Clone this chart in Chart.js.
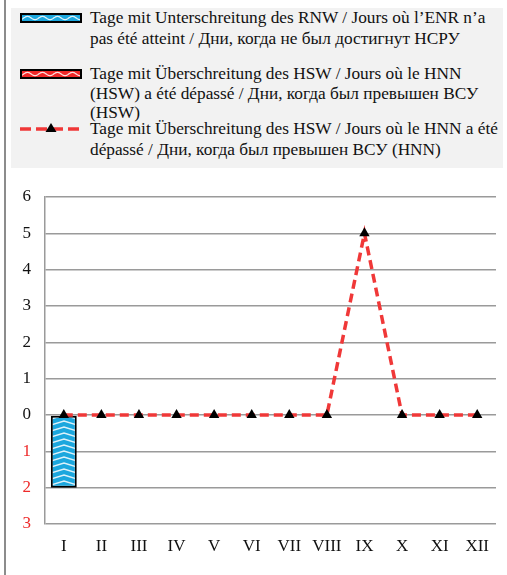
<!DOCTYPE html>
<html><head><meta charset="utf-8">
<script src="https://cdn.jsdelivr.net/npm/chart.js@4.4.1/dist/chart.umd.min.js"></script>
</head><body style="margin:0;padding:0;background:#fff;width:507px;height:575px;position:relative;overflow:hidden;font-family:'Liberation Serif',serif;">
<div style="position:absolute;left:4px;top:0;width:2px;height:575px;background:#8c8c8c;"></div>
<div style="position:absolute;left:11px;top:8px;width:492px;height:160px;background:#f2f2f2;">
  <canvas id="sw1" width="62" height="10" style="position:absolute;left:9px;top:5px"></canvas>
  <div id="t1" style="position:absolute;left:79px;top:0px;font-family:'Liberation Serif',serif;font-size:17.3px;line-height:20.5px;color:#111;white-space:nowrap;"></div>
  <canvas id="sw2" width="62" height="10" style="position:absolute;left:9px;top:61px"></canvas>
  <div id="t2" style="position:absolute;left:79px;top:56px;font-family:'Liberation Serif',serif;font-size:17.3px;line-height:19.5px;color:#111;white-space:nowrap;"></div>
  <canvas id="sw3" width="62" height="14" style="position:absolute;left:9px;top:113px"></canvas>
  <div id="t3" style="position:absolute;left:79px;top:110px;font-family:'Liberation Serif',serif;font-size:17.3px;line-height:21px;color:#111;white-space:nowrap;"></div>
</div>
<div style="position:absolute;left:10px;top:180px;width:497px;height:395px;"><canvas id="c" width="497" height="395" style="display:block"></canvas></div>
<script>
const months = ['I','II','III','IV','V','VI','VII','VIII','IX','X','XI','XII'];
const rnwDays = [2,0,0,0,0,0,0,0,0,0,0,0];   // days below RNW (drawn downward)
const hswDays = [0,0,0,0,0,0,0,0,0,0,0,0];   // days above HSW (bars)
const hnnDays = [0,0,0,0,0,0,0,0,5,0,0,0];   // days above HSW (HNN), line
const yTicks = [6,5,4,3,2,1,0,-1,-2,-3];
const legendTexts = [
  ['Tage mit Unterschreitung des RNW / Jours où l’ENR n’a','pas été atteint / Дни, когда не был достигнут НСРУ'],
  ['Tage mit Überschreitung des HSW / Jours où le HNN','(HSW) a été dépassé / Дни, когда был превышен ВСУ','(HSW)'],
  ['Tage mit Überschreitung des HSW / Jours où le HNN a été','dépassé / Дни, когда был превышен ВСУ (HNN)']
];
['t1','t2','t3'].forEach((id,i)=>{document.getElementById(id).innerHTML=legendTexts[i].join('<br>');});

// chevron fill used inside the bars
function makeBarPattern(bg){
  const t=document.createElement('canvas');t.width=26;t.height=6;
  const g=t.getContext('2d');
  g.fillStyle=bg;g.fillRect(0,0,26,6);
  g.strokeStyle='rgba(255,255,255,0.85)';g.lineWidth=1.4;
  g.beginPath();g.moveTo(-1,5.2);g.lineTo(13,1);g.lineTo(27,5.2);g.stroke();
  const p=g.createPattern(t,'repeat');
  p.setTransform(new DOMMatrix().translate(15,0));
  return p;
}
// wave fill used in the legend swatches
function makeWavePattern(bg){
  const t=document.createElement('canvas');t.width=15;t.height=10;
  const g=t.getContext('2d');
  g.fillStyle=bg;g.fillRect(0,0,15,10);
  g.strokeStyle='rgba(255,255,255,0.85)';g.lineWidth=1.3;
  g.beginPath();
  for(let x=0;x<=15;x+=0.5){const y=5+1.6*Math.cos(x/15*2*Math.PI);x===0?g.moveTo(x,y):g.lineTo(x,y);}
  g.stroke();
  return g.createPattern(t,'repeat');
}
const bluePat=makeBarPattern('#1ba7de');
const redPat=makeBarPattern('#f02828');
function swatch(id,bg){
  const c=document.getElementById(id),g=c.getContext('2d');
  g.fillStyle=makeWavePattern(bg);g.fillRect(0,0,62,10);
  g.strokeStyle='#000';g.lineWidth=2;g.strokeRect(1,1,60,8);
}
swatch('sw1','#1ba7de');swatch('sw2','#f02828');
(function(){
  const c=document.getElementById('sw3'),g=c.getContext('2d');
  g.strokeStyle='#f03838';g.lineWidth=3.5;g.setLineDash([11,5]);
  g.beginPath();g.moveTo(0,8);g.lineTo(62,8);g.stroke();
  g.fillStyle='#000';g.beginPath();g.moveTo(31,2);g.lineTo(36.5,11);g.lineTo(25.5,11);g.closePath();g.fill();
})();

Chart.defaults.font.family="'Liberation Serif', serif";
const font={family:"'Liberation Serif', serif",size:17};
new Chart(document.getElementById('c'),{
  data:{labels:months,datasets:[
    {type:'bar',label:'RNW',data:rnwDays.map(v=>-v),backgroundColor:bluePat,borderColor:'#000',borderWidth:2,borderSkipped:false,grouped:false,order:2,categoryPercentage:1,barPercentage:0.69},
    {type:'bar',label:'HSW',data:hswDays,backgroundColor:redPat,borderColor:'#000',borderWidth:0,grouped:false,order:1,categoryPercentage:1,barPercentage:0.69},
    {type:'line',label:'HNN',data:hnnDays,borderColor:'#f03838',borderWidth:3.5,borderDash:[9,5],tension:0,pointStyle:'triangle',pointRadius:6,pointBackgroundColor:'#000',pointBorderColor:'#000',pointBorderWidth:0,order:0}
  ]},
  options:{
    responsive:false,animation:false,devicePixelRatio:1,
    layout:{padding:{top:17,right:11,left:0,bottom:0}},
    plugins:{legend:{display:false},tooltip:{enabled:false}},
    scales:{
      x:{offset:true,grid:{display:false,drawTicks:false},border:{display:false},
        ticks:{font:font,color:'#111',padding:12,maxRotation:0},
        afterFit:s=>{s.height=51;}},
      y:{min:-3,max:6,
        afterBuildTicks:s=>{s.ticks=yTicks.map(v=>({value:v}));},
        grid:{color:'#9a9a9a',lineWidth:1.5,drawTicks:false},
        border:{display:true,color:'#9a9a9a',width:1.5},
        ticks:{font:font,padding:14,callback:v=>String(Math.abs(v)),color:c=>c.tick.value<0?'#ee2a2a':'#111'},
        afterFit:s=>{s.width=35;s.paddingTop=8;s.paddingBottom=8;}}
    }
  }
});
</script>
</body></html>
